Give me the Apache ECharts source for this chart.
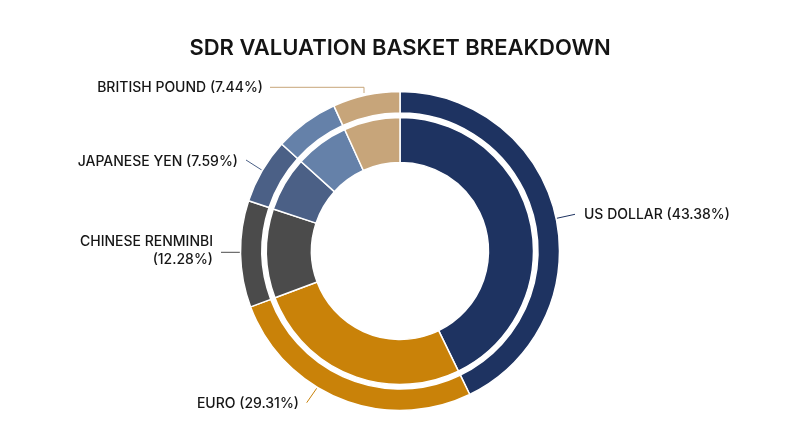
<!DOCTYPE html>
<html>
<head>
<meta charset="utf-8">
<script src="https://cdn.jsdelivr.net/npm/echarts@6/dist/echarts.min.js"></script>
<style>
html,body{margin:0;padding:0;background:#fff;}
#c{width:800px;height:447px;}
</style>
</head>
<body>
<div id="c"></div>
<script>
// Segments clockwise from 12 o'clock
const categories = ['US DOLLAR', 'EURO', 'CHINESE RENMINBI', 'JAPANESE YEN', '', 'BRITISH POUND'];
const statedWeights = ['43.38%', '29.31%', '12.28%', '7.59%', '', '7.44%'];
// arc shares as drawn in the picture (percent of the ring)
const arcShares = [42.8, 26.5, 10.8, 6.6, 6.5, 6.8];
const colors = ['#1e3361', '#c98209', '#4b4b4b', '#4b6086', '#6581a9', '#c7a57a'];

// label placement (layout only)
const labelPlace = [
  { x: 584, y: 214.5, align: 'left', line: [[556.7, 218.3], [575, 214.3]] },
  { x: 299, y: 404, align: 'right', line: [[316.7, 388.3], [306.7, 402.7]] },
  { x: 213, y: 251, align: 'right', line: [[241, 252.3], [221, 252.3]] },
  { x: 238, y: 161.5, align: 'right', line: [[261.7, 170], [246, 160]] },
  null,
  { x: 263, y: 88, align: 'right', line: [[364, 93], [364, 87.3], [270, 87.3]] }
];

const fontFam = 'Inter, "Open Sans", sans-serif';

function makeData(showLabels) {
  return categories.map((name, i) => {
    const item = {
      name: name,
      value: arcShares[i],
      itemStyle: { color: colors[i] }
    };
    if (!showLabels || !name) {
      item.label = { show: false };
      item.labelLine = { show: false };
    }
    return item;
  });
}

const chart = echarts.init(document.getElementById('c'), null, { renderer: 'canvas' });
chart.setOption({
  backgroundColor: '#ffffff',
  animation: false,
  title: {
    text: 'SDR VALUATION BASKET BREAKDOWN',
    left: 'center',
    top: 32,
    textStyle: { fontFamily: fontFam, fontSize: 22, fontWeight: 600, color: '#141414' }
  },
  series: [
    {
      type: 'pie',
      center: [400, 251],
      radius: [138, 159.5],
      startAngle: 90,
      clockwise: true,
      silent: true,
      itemStyle: { borderColor: '#ffffff', borderWidth: 1.5 },
      label: {
        show: true,
        position: 'outside',
        fontFamily: fontFam,
        fontSize: 14,
        fontWeight: 500,
        color: '#161616',
        lineHeight: 18,
        formatter: p => {
          const i = p.dataIndex;
          if (i === 2) return categories[i] + '\n(' + statedWeights[i] + ')';
          return categories[i] + ' (' + statedWeights[i] + ')';
        }
      },
      labelLine: { show: true, lineStyle: { width: 1 } },
      labelLayout: function (params) {
        const pl = labelPlace[params.dataIndex];
        if (!pl) return {};
        return {
          x: pl.x,
          y: pl.y,
          align: pl.align,
          verticalAlign: 'middle',
          labelLinePoints: pl.line
        };
      },
      data: makeData(true)
    },
    {
      type: 'pie',
      center: [400, 251],
      radius: [88.5, 133.5],
      startAngle: 90,
      clockwise: true,
      silent: true,
      itemStyle: { borderColor: '#ffffff', borderWidth: 1.5 },
      label: { show: false },
      labelLine: { show: false },
      data: makeData(false)
    }
  ]
});
</script>
</body>
</html>
